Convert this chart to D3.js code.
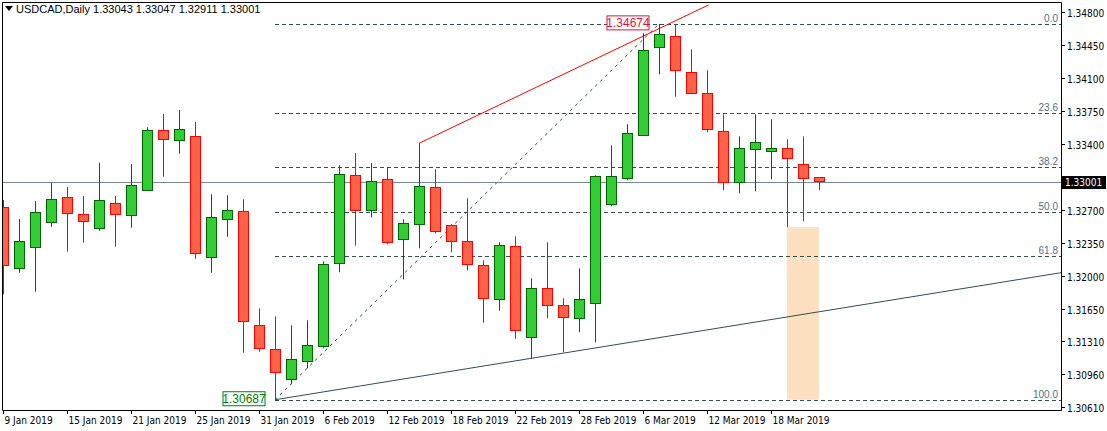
<!DOCTYPE html>
<html>
<head>
<meta charset="utf-8">
<script src="https://cdn.jsdelivr.net/npm/d3@7"></script>
<style>
  body { margin: 0; background: #fff; }
  text { font-family: "Liberation Sans", Arial, sans-serif; }
  text.axis { font-family: "DejaVu Sans Condensed", "DejaVu Sans", sans-serif; }
</style>
</head>
<body>
<svg id="chart" width="1107" height="431"></svg>
<script>
// daily candles, 9 Jan 2019 .. 21 Mar 2019
const opens  = [1.32728,1.32081,1.32304,1.32569,1.32834,1.32654,1.32505,1.32771,1.32643,1.32909,1.33545,1.33439,1.33485,1.32198,1.32601,1.32686,1.31476,1.31222,1.30904,1.31095,1.31254,1.32134,1.33068,1.32696,1.33025,1.32389,1.32548,1.32940,1.32537,1.32368,1.32113,1.31752,1.32315,1.31349,1.31869,1.31689,1.31551,1.31710,1.32760,1.33036,1.33492,1.34426,1.34542,1.34160,1.33938,1.33534,1.32993,1.33344,1.33322,1.33354,1.33184,1.33046];
const highs  = [1.32806,1.32604,1.32795,1.32986,1.32944,1.32848,1.33201,1.32848,1.33188,1.33577,1.33718,1.33760,1.33633,1.32866,1.32856,1.32813,1.31657,1.31572,1.31476,1.31530,1.32155,1.33174,1.33304,1.33198,1.33153,1.32601,1.33407,1.33131,1.32548,1.32824,1.32166,1.32357,1.32421,1.31975,1.32357,1.31763,1.32081,1.33068,1.33386,1.33609,1.34574,1.34674,1.34674,1.34404,1.34182,1.33715,1.33481,1.33715,1.33662,1.33450,1.33481,1.33047];
const lows   = [1.31805,1.32034,1.31833,1.32522,1.32257,1.32353,1.32480,1.32310,1.32512,1.32909,1.33053,1.33297,1.32183,1.32034,1.32416,1.31186,1.31196,1.30687,1.30851,1.31020,1.31233,1.32039,1.32321,1.32622,1.32336,1.31964,1.32293,1.32452,1.32251,1.32060,1.31504,1.31631,1.31334,1.31126,1.31551,1.31190,1.31402,1.31296,1.32739,1.33015,1.33492,1.34139,1.33902,1.33927,1.33524,1.32909,1.32877,1.32898,1.33025,1.32519,1.32580,1.32911];
const closes = [1.32113,1.32368,1.32675,1.32813,1.32665,1.32580,1.32803,1.32654,1.32962,1.33545,1.33450,1.33556,1.32240,1.32622,1.32696,1.31519,1.31233,1.30978,1.31116,1.31264,1.32124,1.33078,1.32696,1.33004,1.32357,1.32559,1.32951,1.32474,1.32368,1.32124,1.31763,1.32325,1.31423,1.31869,1.31689,1.31561,1.31752,1.33057,1.33057,1.33513,1.34394,1.34563,1.34182,1.33938,1.33556,1.32993,1.33354,1.33418,1.33354,1.33248,1.33036,1.33001];

const dateIdx = [0,4,8,12,16,20,24,28,32,36,40,44,48];
const dateLabels = ['9 Jan 2019','15 Jan 2019','21 Jan 2019','25 Jan 2019','31 Jan 2019','6 Feb 2019','12 Feb 2019','18 Feb 2019','22 Feb 2019','28 Feb 2019','6 Mar 2019','12 Mar 2019','18 Mar 2019'];
const priceTicks = ['1.34800','1.34450','1.34100','1.33750','1.33400','1.33050','1.32700','1.32350','1.32000','1.31650','1.31310','1.30960','1.30610'];

// fibonacci from swing low (bar 17) to swing high (bar 41)
const fibLow = 1.30687, fibHigh = 1.34674, fibStartIdx = 17, fibEndIdx = 41;
const fibLevels = [0, 23.6, 38.2, 50, 61.8, 100];
const fibNames = ['0.0','23.6','38.2','50.0','61.8','100.0'];

// trend lines: [idx, price] pairs
const redLine = [[26, 1.33407], [44.1, 1.34875]];
const supportLine = [[17, 1.30687], [33, 1.31126]];
const lastPrice = 1.33001;
const zone = {from: 49, to: 51, top: 1.32519, bottom: 1.30687};

const right = 1061, bottom = 410;
const svg = d3.select('#chart');
const x = d3.scaleLinear().domain([0, 51]).range([3, 819]);
const y = d3.scaleLinear().domain([1.30610, 1.34800]).range([407, 12]);

svg.append('clipPath').attr('id', 'clip').append('rect')
  .attr('x', 2).attr('y', 2).attr('width', right - 2).attr('height', bottom - 2);
const plot = svg.append('g').attr('clip-path', 'url(#clip)');

// zone
plot.append('rect').attr('x', x(zone.from)).attr('width', x(zone.to) - x(zone.from))
  .attr('y', y(zone.top)).attr('height', y(zone.bottom) - y(zone.top)).attr('fill', '#fde0c0');

// fib levels
const fibPrice = l => fibHigh - l / 100 * (fibHigh - fibLow);
fibLevels.forEach((l, i) => {
  const py = Math.round(y(fibPrice(l))) + 0.5;
  plot.append('line').attr('x1', x(fibStartIdx)).attr('x2', right).attr('y1', py).attr('y2', py)
    .attr('stroke', '#2f4f4f').attr('stroke-dasharray', '4,3');
  svg.append('text').attr('x', right - 3).attr('y', py - 3).attr('text-anchor', 'end')
    .attr('font-size', 10).attr('fill', '#4f7090').text(fibNames[i]);
});
plot.append('line').attr('x1', x(fibStartIdx)).attr('y1', y(fibLow)).attr('x2', x(fibEndIdx)).attr('y2', y(fibHigh))
  .attr('stroke', '#2f4f4f').attr('stroke-dasharray', '3,4');

// current price line
plot.append('line').attr('x1', 0).attr('x2', right).attr('y1', Math.round(y(lastPrice)) + 0.5).attr('y2', Math.round(y(lastPrice)) + 0.5)
  .attr('stroke', '#778899');

// support line extended to right edge
const sSlope = (supportLine[1][1] - supportLine[0][1]) / (supportLine[1][0] - supportLine[0][0]);
const rIdx = x.invert(right);
plot.append('line').attr('x1', x(supportLine[0][0])).attr('y1', y(supportLine[0][1]))
  .attr('x2', right).attr('y2', y(supportLine[0][1] + sSlope * (rIdx - supportLine[0][0])))
  .attr('stroke', '#2f4f4f');
plot.append('line').attr('x1', x(redLine[0][0])).attr('y1', y(redLine[0][1]))
  .attr('x2', x(redLine[1][0])).attr('y2', y(redLine[1][1])).attr('stroke', '#ff0000');

// candles
const bars = d3.range(opens.length).map(i => ({i, o: opens[i], h: highs[i], l: lows[i], c: closes[i]}));
const cg = plot.selectAll('g.c').data(bars).enter().append('g');
cg.append('line')
  .attr('x1', d => Math.round(x(d.i)) + 0.5).attr('x2', d => Math.round(x(d.i)) + 0.5)
  .attr('y1', d => y(d.h)).attr('y2', d => y(d.l))
  .attr('stroke', d => d.c >= d.o ? '#006400' : '#ff0000');
cg.append('rect')
  .attr('x', d => Math.round(x(d.i)) - 4.5).attr('width', 10)
  .attr('y', d => Math.round(y(Math.max(d.o, d.c))) + 0.5)
  .attr('height', d => Math.max(1, Math.round(Math.abs(y(d.o) - y(d.c)))))
  .attr('fill', d => d.c >= d.o ? '#32cd32' : '#ff6347')
  .attr('stroke', d => d.c >= d.o ? '#006400' : '#ff0000');

// price labels on fib ends
function tag(px, py, txt, col) {
  const g = svg.append('g');
  g.append('rect').attr('x', px - 42).attr('y', py - 7).attr('width', 42).attr('height', 14)
    .attr('fill', '#fff').attr('stroke', col);
  g.append('text').attr('x', px - 21).attr('y', py + 4).attr('text-anchor', 'middle')
    .attr('font-size', 12).attr('fill', col).text(txt);
}
tag(x(fibStartIdx) - 10, y(fibLow) - 1, fibLow.toFixed(5), '#008000');
tag(x(fibEndIdx) - 10, y(fibHigh) - 1, fibHigh.toFixed(5), '#dc143c');

// frame
svg.append('path').attr('d', `M2.5,2.5H${right + 0.5}V${bottom + 0.5}H2.5Z`).attr('fill', 'none').attr('stroke', '#000');

// right axis (1.33050 is hidden behind the last price box, as in the terminal)
priceTicks.forEach(t => {
  const py = Math.round(y(+t)) + 0.5;
  svg.append('line').attr('x1', right).attr('x2', right + 4).attr('y1', py).attr('y2', py).attr('stroke', '#000');
  svg.append('text').attr('class', 'axis').attr('x', right + 6).attr('y', py + 4).attr('font-size', 10).attr('fill', '#000')
    .attr('opacity', Math.abs(+t - lastPrice) < 0.001 ? 0 : 1).text(t);
});
const ly = Math.round(y(lastPrice));
svg.append('rect').attr('x', right + 1).attr('y', ly - 6).attr('width', 44).attr('height', 13).attr('fill', '#000');
svg.append('text').attr('class', 'axis').attr('x', right + 4).attr('y', ly + 4).attr('font-size', 10).attr('fill', '#fff').text(lastPrice.toFixed(5));

// bottom axis
dateIdx.forEach((d, k) => {
  const px = Math.round(x(d)) + 0.5;
  svg.append('line').attr('x1', px).attr('x2', px).attr('y1', bottom).attr('y2', bottom + 4).attr('stroke', '#000');
  svg.append('text').attr('class', 'axis').attr('x', px + 1).attr('y', 424).attr('font-size', 10).attr('fill', '#000').text(dateLabels[k]);
});

// title
svg.append('path').attr('d', 'M5,6H13L9,11Z').attr('fill', '#000');
svg.append('text').attr('x', 16).attr('y', 13).attr('font-size', 11).attr('fill', '#000')
  .text('USDCAD,Daily  1.33043 1.33047 1.32911 1.33001');
</script>
</body>
</html>
